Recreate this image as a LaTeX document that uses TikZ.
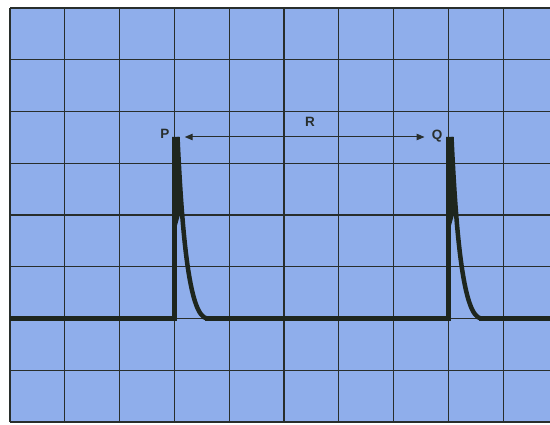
\documentclass[tikz,border=0pt]{standalone}
\usepackage{fontspec}
\setmainfont{Liberation Sans}
\usetikzlibrary{arrows.meta}
\definecolor{paper}{RGB}{143,174,235}
\definecolor{gridc}{RGB}{40,46,44}
\definecolor{trace}{RGB}{30,38,30}
\tikzset{
  gridline/.style={draw=gridc,line width=1.2pt},
  tracewave/.style={draw=trace,line width=5pt},
  spikeline/.style={draw=trace,line width=4.5pt},
  lbl/.style={inner sep=0pt,font=\fontsize{13.5}{16}\selectfont\bfseries,text=gridc},
  interval/.style={draw=gridc,line width=1pt,{Triangle[length=8pt,width=6.5pt]}-{Triangle[length=8pt,width=6.5pt]}}
}
\begin{document}
\begin{tikzpicture}[x=1pt,y=1pt]
\useasboundingbox (0,0) rectangle (550,424);
\fill[white] (0,0) rectangle (550,424);
\fill[paper] (10,2) rectangle (550,416);
% grid
\foreach \k in {0,...,9} {
  \draw[gridline] ({10+54.8*\k},2) -- ({10+54.8*\k},416);
}
\foreach \k in {0,...,8} {
  \draw[gridline] (10,{416-51.75*\k}) -- (550,{416-51.75*\k});
}
% trace
\foreach \dx in {0,274} {
  \begin{scope}[xshift=\dx pt]
    \fill[trace] (172.2,287) -- (178.8,287) -- (181.6,215) -- (176,195) -- cycle;
    \draw[spikeline] (174.4,105.5) -- (174.4,287);
    \draw[spikeline] (177.5,287) .. controls (182.5,180) and (190,108) .. (207,105.5);
  \end{scope}
}
\draw[tracewave] (10,105.5) -- (176.6,105.5);
\draw[tracewave] (205,105.5) -- (450.6,105.5);
\draw[tracewave] (479,105.5) -- (550,105.5);
% labels
\node[lbl] (P) at (165,290) {P};
\node[lbl] (Q) at (437,288) {Q};
\node[lbl] (R) at (310,302) {R};
\draw[interval] ([xshift=15pt]P.east |- 0,287) coordinate (pa) -- ([xshift=-7pt]Q.west |- 0,287) coordinate (qa);
\end{tikzpicture}
\end{document}
